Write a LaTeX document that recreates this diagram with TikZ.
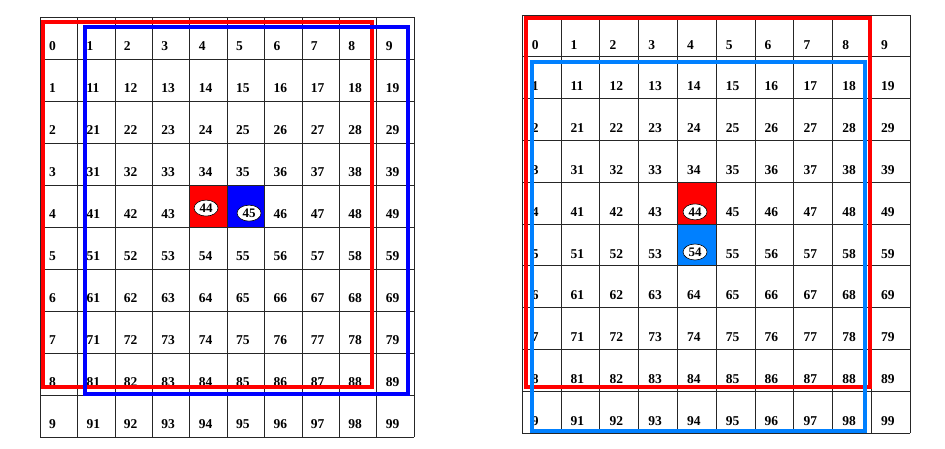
\documentclass[tikz,border=0pt]{standalone}
\usepackage{fontspec}
\setmainfont{Liberation Serif}
\usetikzlibrary{shapes.geometric}

\definecolor{frameblue}{RGB}{0,0,255}
\definecolor{skyblue}{RGB}{0,128,255}

\tikzset{
  gridline/.style={line width=0.6pt, black!85},
  num/.style={anchor=west, inner sep=0pt, font=\bfseries\fontsize{13.5}{15}\selectfont},
  oval/.style={ellipse, draw, fill=white, line width=0.6pt, inner sep=0pt,
    minimum width=24pt, minimum height=16pt, font=\bfseries\fontsize{13}{15}\selectfont},
  window/.style={line width=4.5pt}
}

\begin{document}
\begin{tikzpicture}[x=1pt, y=1pt]
\useasboundingbox (0,0) rectangle (945,449);

% left table: cells 44 and 45
\begin{scope}[shift={(40,12)}, x=37.4pt, y=42pt]
  \fill[red] (4,5) rectangle (5,6);
  \fill[frameblue] (5,5) rectangle (6,6);
  \draw[gridline, step=1] (0,0) grid (10.001,10.001);
  \foreach \r in {0,...,9}
    \foreach \c in {0,...,9} {
      \pgfmathtruncatemacro\n{\r==0 ? \c : (\c==0 ? \r : 10*\r+\c)}
      \pgfmathtruncatemacro\isoval{(\r==4 && (\c==4 || \c==5)) ? 1 : 0}
      \ifnum\isoval=0
        \node[num] (L-\r-\c) at (\c+0.24, 9.31-\r) {\n};
      \fi
    }
  \node[oval] (L-4-4) at (4.44, 5.45) {44};
  \node[oval] (L-4-5) at (5.59, 5.33) {45};
\end{scope}
\draw[window, red] (43,62) rectangle (372,427);
\draw[window, frameblue] (85,55) rectangle (408,422);

% right table: cells 44 and 54
\begin{scope}[shift={(522,16)}, x=38.8pt, y=41.8pt]
  \fill[red] (4,5) rectangle (5,6);
  \fill[skyblue] (4,4) rectangle (5,5);
  \draw[gridline, step=1] (0,0) grid (10.001,10.001);
  \foreach \r in {0,...,9}
    \foreach \c in {0,...,9} {
      \pgfmathtruncatemacro\n{\r==0 ? \c : (\c==0 ? \r : 10*\r+\c)}
      \pgfmathtruncatemacro\isoval{(\c==4 && (\r==4 || \r==5)) ? 1 : 0}
      \ifnum\isoval=0
        \node[num] (R-\r-\c) at (\c+0.25, 9.29-\r) {\n};
      \fi
    }
  \node[oval] (R-4-4) at (4.46, 5.29) {44};
  \node[oval] (R-5-4) at (4.46, 4.33) {54};
\end{scope}
\draw[window, red] (526,62) rectangle (870,431);
\draw[window, skyblue] (532,18) rectangle (865,387);

\end{tikzpicture}
\end{document}
